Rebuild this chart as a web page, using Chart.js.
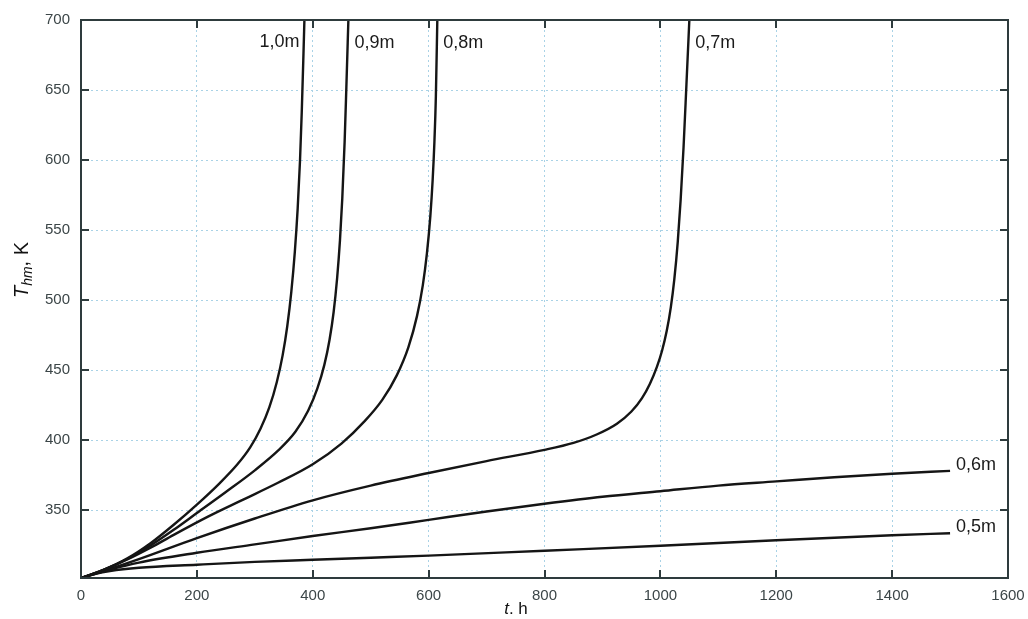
<!DOCTYPE html>
<html>
<head>
<meta charset="utf-8">
<script src="https://cdn.jsdelivr.net/npm/chart.js@4.4.1/dist/chart.umd.min.js"></script>
<style>
html,body{margin:0;padding:0;background:#fff;}
#wrap{width:1028px;height:619px;position:relative;}
</style>
</head>
<body>
<div id="wrap"><canvas id="c" width="1028" height="619"></canvas></div>
<script>
// ---- data ----
const seriesNames = ["1,0m", "0,9m", "0,8m", "0,7m", "0,6m", "0,5m"];

const t10 = [0, 40, 80, 120, 160, 200, 240, 270, 292, 310, 325, 338, 348, 356, 363, 369, 374, 378, 381, 384, 385.6];
const T10 = [301.5, 307.5, 315.5, 326.3, 339.5, 353.9, 369.5, 382.7, 394.8, 408.3, 423.3, 441.5, 460.5, 481.3, 505.8, 534, 565.5, 599.5, 634, 676, 700];

const t09 = [0, 40, 80, 120, 160, 200, 250, 300, 340, 370, 392, 408, 420, 429, 436, 442, 447, 451, 455, 458, 461.5];
const T09 = [301.5, 307.5, 315.1, 324.7, 335.9, 347.9, 362.9, 378.4, 392.4, 405.9, 420.9, 436.9, 453.7, 471.7, 491.3, 515.3, 542.8, 572.8, 612.8, 651.8, 700];

const t08 = [0, 40, 80, 120, 160, 220, 280, 340, 400, 450, 490, 520, 545, 565, 580, 590, 597, 603, 607, 610, 612.5, 615];
const T08 = [301.5, 307.5, 314.7, 323.1, 332.3, 345.5, 357.5, 369.5, 382.7, 397.7, 413.7, 428.7, 446.2, 466.2, 488.7, 510.7, 533.1, 560.1, 586.1, 613.1, 645.6, 700];

const t07 = [0, 50, 100, 200, 300, 400, 500, 600, 700, 800, 850, 890, 925, 950, 968, 982, 994, 1003, 1011, 1018, 1024, 1030, 1035, 1040, 1045, 1050];
const T07 = [301.5, 308, 315, 330, 344, 357, 367.5, 376.5, 385, 393, 398, 404, 411.7, 420.4, 429.8, 440.3, 452.3, 464, 478, 494.8, 514.6, 541.6, 571.6, 609.1, 654.1, 700];

const t06 = [0, 25, 50, 100, 200, 300, 400, 500, 600, 700, 800, 900, 1000, 1100, 1200, 1300, 1400, 1500];
const T06 = [301.5, 304.5, 307.5, 312.5, 319.5, 325.5, 331.5, 337, 343, 349, 354.5, 359.5, 363.5, 367.5, 370.5, 373.5, 376, 378];

const t05 = [0, 25, 50, 100, 200, 300, 400, 500, 600, 800, 1000, 1200, 1400, 1500];
const T05 = [301.5, 304.5, 306.5, 308.8, 311, 313, 314.5, 316, 317.5, 321, 324.5, 328.5, 332, 333.5];

const xTicks = [0, 200, 400, 600, 800, 1000, 1200, 1400, 1600];
const yTicks = [350, 400, 450, 500, 550, 600, 650, 700];

const xs = [t10, t09, t08, t07, t06, t05];
const ys = [T10, T09, T08, T07, T06, T05];

const datasets = seriesNames.map((name, i) => ({
  label: name,
  data: xs[i].map((t, j) => ({x: t, y: ys[i][j]})),
  borderColor: '#151515',
  borderWidth: 2.4,
  pointRadius: 0,
  fill: false,
  cubicInterpolationMode: 'monotone'
}));

const AXIS = '#2e3b3d';
const TXT = '#3c4648';
const FAM = '"Liberation Sans", Arial, sans-serif';

const decorPlugin = {
  id: 'decor',
  afterDatasetsDraw(chart) {
    const {ctx, chartArea: a, scales: {x, y}} = chart;
    ctx.save();
    ctx.strokeStyle = AXIS;
    ctx.lineWidth = 2;
    ctx.strokeRect(a.left, a.top, a.right - a.left, a.bottom - a.top);
    const L = 8;
    xTicks.forEach(v => {
      const px = Math.round(x.getPixelForValue(v));
      ctx.beginPath();
      ctx.moveTo(px, a.bottom); ctx.lineTo(px, a.bottom - L);
      ctx.moveTo(px, a.top); ctx.lineTo(px, a.top + L);
      ctx.stroke();
    });
    yTicks.forEach(v => {
      const py = Math.round(y.getPixelForValue(v));
      ctx.beginPath();
      ctx.moveTo(a.left, py); ctx.lineTo(a.left + L, py);
      ctx.moveTo(a.right, py); ctx.lineTo(a.right - L, py);
      ctx.stroke();
    });
    // series labels
    ctx.fillStyle = '#1a1a1a';
    ctx.font = '18px ' + FAM;
    ctx.textBaseline = 'middle';
    const last = i => xs[i][xs[i].length - 1];
    const lastT = i => ys[i][ys[i].length - 1];
    ctx.textAlign = 'right';
    ctx.fillText(seriesNames[0], x.getPixelForValue(last(0)) - 5, y.getPixelForValue(684));
    ctx.textAlign = 'left';
    [1, 2, 3].forEach(i => {
      ctx.fillText(seriesNames[i], x.getPixelForValue(last(i)) + 6, y.getPixelForValue(683.5));
    });
    [4, 5].forEach(i => {
      ctx.fillText(seriesNames[i], x.getPixelForValue(last(i)) + 6, y.getPixelForValue(lastT(i)) - 6);
    });
    // axis titles
    ctx.fillStyle = '#111';
    ctx.textBaseline = 'alphabetic';
    ctx.textAlign = 'left';
    const fN = '17px ' + FAM;
    const fI = 'italic 17px ' + FAM;
    const cx = chart.width / 2 + 2;
    ctx.font = fI; const w1 = ctx.measureText('t').width;
    ctx.font = fN; const w2 = ctx.measureText('. h').width;
    let sx = cx - (w1 + w2) / 2;
    ctx.font = fI; ctx.fillText('t', sx, 614);
    ctx.font = fN; ctx.fillText('. h', sx + w1, 614);
    ctx.save();
    ctx.translate(28, 270);
    ctx.rotate(-Math.PI / 2);
    const fYN = '20px ' + FAM;
    const fYI = 'italic 20px ' + FAM;
    const fS = 'italic 14px ' + FAM;
    ctx.font = fYI; const a1 = ctx.measureText('T').width;
    ctx.font = fS; const a2 = ctx.measureText('hm').width;
    ctx.font = fYN; const a3 = ctx.measureText(', K').width;
    let st = -(a1 + a2 + a3) / 2;
    ctx.font = fYI; ctx.fillText('T', st, 0);
    ctx.font = fS; ctx.fillText('hm', st + a1, 4);
    ctx.font = fYN; ctx.fillText(', K', st + a1 + a2, 0);
    ctx.restore();
    ctx.restore();
  }
};

new Chart(document.getElementById('c'), {
  type: 'line',
  data: {datasets},
  options: {
    responsive: false,
    animation: false,
    events: [],
    layout: {padding: {top: 20, right: 20, left: 0, bottom: 0}},
    plugins: {legend: {display: false}, tooltip: {enabled: false}},
    scales: {
      x: {
        type: 'linear',
        min: 0, max: 1600,
        afterBuildTicks: s => { s.ticks = xTicks.map(v => ({value: v})); },
        afterFit: s => { s.height = 41; s.paddingLeft = 0; s.paddingRight = 0; },
        grid: {color: '#a9d2e6', lineWidth: 1, drawTicks: false},
        border: {display: false, dash: [2, 3]},
        ticks: {color: TXT, padding: 9, maxRotation: 0, callback: v => String(v), font: {size: 15, family: FAM}}
      },
      y: {
        type: 'linear',
        min: 301.5, max: 700,
        afterBuildTicks: s => { s.ticks = yTicks.map(v => ({value: v})); },
        afterFit: s => { s.width = 81; s.paddingTop = 0; s.paddingBottom = 0; },
        grid: {color: '#a9d2e6', lineWidth: 1, drawTicks: false},
        border: {display: false, dash: [2, 3]},
        ticks: {color: TXT, padding: 11, callback: v => String(v), font: {size: 15, family: FAM}}
      }
    }
  },
  plugins: [decorPlugin]
});
</script>
</body>
</html>
